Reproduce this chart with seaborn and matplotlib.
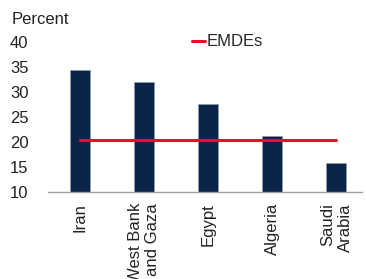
import matplotlib
matplotlib.use("Agg")
import matplotlib.pyplot as plt
import seaborn as sns
import pandas as pd

categories = ["Iran", "West Bank\nand Gaza", "Egypt", "Algeria", "Saudi\nArabia"]
values = [34.4, 32.0, 27.6, 21.2, 15.9]
emde_value = 20.5
yticks = [10, 15, 20, 25, 30, 35, 40]

sns.set_theme(style="white")
plt.rcParams['font.family'] = ['Liberation Sans', 'DejaVu Sans']

df = pd.DataFrame({"country": categories, "value": values})

fig = plt.figure(figsize=(3.66, 2.79), dpi=100)
ax = fig.add_axes([48/366, 1-192/279, (362-48)/366, (192-42)/279])

sns.barplot(data=df, x="country", y="value", color="#0B2447", width=0.31,
            edgecolor="#8A9BB0", linewidth=0.6, ax=ax, saturation=1)
emde_line, = ax.plot([0, len(categories)-1], [emde_value, emde_value],
                     color="#E8102A", linewidth=2.2, label="EMDEs", zorder=5)

ax.set_ylim(10, 40)
ax.set_xlim(-0.5, 4.4)
ax.set_yticks(yticks)
ax.set_yticklabels([str(t) for t in yticks], fontsize=12, color="#222222")
ax.set_xticks(range(len(categories)))
ax.set_xticklabels(categories, rotation=90, fontsize=12, color="#222222",
                   multialignment="right")
ax.tick_params(axis="both", length=0, pad=8)
ax.tick_params(axis="y", pad=14)
ax.set_xlabel("")
ax.set_ylabel("")
for s in ["top", "right", "left"]:
    ax.spines[s].set_visible(False)
ax.spines["bottom"].set_color("#A0A0A0")
ax.spines["bottom"].set_linewidth(1.0)

fig.text(12/366, 1-20/279, "Percent", fontsize=12, color="#222222",
         va="center", ha="left")

leg = fig.legend(handles=[emde_line], labels=["EMDEs"], loc="center left",
                 bbox_to_anchor=(192/366, 1-42/279), frameon=False, fontsize=12,
                 handlelength=0.75, handletextpad=0.1, borderaxespad=0,
                 borderpad=0)

fig.savefig("out.png", dpi=100)
